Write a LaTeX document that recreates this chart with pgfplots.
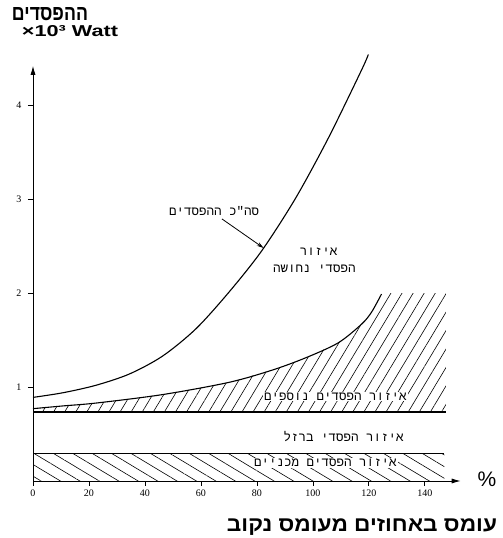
\documentclass[border=0pt]{standalone}
\usepackage{fontspec}
\usepackage{pgfplots}
\pgfplotsset{compat=1.18}
\usetikzlibrary{patterns.meta,arrows.meta}
\setmainfont{Liberation Serif}
\newfontfamily\hebsans[Script=Hebrew]{Liberation Sans}
\newfontfamily\hebmono[Script=Hebrew]{Liberation Mono}
\newfontfamily\lsans{Liberation Sans}
\TeXXeTstate=1
\begin{document}
\begin{tikzpicture}
\useasboundingbox (-33pt,-57pt) rectangle (470pt,481pt);
\begin{axis}[
 scale only axis, width=427.7pt, height=415.2pt,
 xmin=0, xmax=152.8, ymin=0, ymax=4.42,
 axis lines=left,
 axis line style={line width=0.9pt, -{Latex[length=9pt,width=5pt]}},
 xtick={0,20,...,140}, ytick={1,2,3,4},
 tick align=outside, major tick length=5pt,
 tick style={line width=0.8pt, black},
 ticklabel style={font=\fontsize{10}{12}\selectfont},
 yticklabel style={xshift=-3pt},
 /pgf/number format/assume math mode=true,
 clip=false,
]
% mechanical losses region
\addplot[draw=none, pattern={Lines[angle=-31,distance=10pt,line width=0.6pt]}]
  coordinates {(0,0) (0,0.29) (147,0.29) (147,0)} -- cycle;
\addplot[line width=1.1pt, black] coordinates {(0,0.29) (147,0.29)};
% additional losses region
\addplot[draw=none, pattern={Lines[angle=59,distance=9.5pt,line width=0.6pt]}]
  coordinates {(0,0.73) (0,0.77) (11,0.80) (22.6,0.83) (46.3,0.92) (70,1.05) (85.4,1.18) (97.3,1.31) (109,1.47) (117.4,1.67) (121,1.80) (124.5,1.99) (125,2.0) (147.5,2.0) (147.5,0.73)} -- cycle;
\addplot[line width=1.1pt, black, smooth, tension=0.5] coordinates {(0,0.77) (11,0.80) (22.6,0.83) (46.3,0.92) (70,1.05) (85.4,1.18) (97.3,1.31) (109,1.47) (117.4,1.67) (121,1.80) (124.5,1.99)};
% iron losses line
\addplot[line width=2pt, black] coordinates {(0,0.73) (147.5,0.73)};
% total losses
\addplot[line width=1.1pt, black, smooth, tension=0.5] coordinates {(0,0.89) (10.8,0.94) (22.6,1.02) (34.5,1.14) (46.3,1.33) (58.2,1.62) (70,2.01) (81.7,2.45) (93.8,3.01) (105.5,3.65) (117.3,4.37) (119.8,4.54)};
% labels
\node[font=\hebmono\fontsize{12.5}{14}\selectfont] at (axis cs:64.7,2.87) {\beginR סה"כ ההפסדים\endR};
\draw[-{Stealth[length=7pt,width=4pt]}, line width=0.8pt] (axis cs:67.5,2.79) -- (axis cs:82.4,2.48);
\node[font=\hebmono\fontsize{12.5}{14}\selectfont] at (axis cs:102,2.44) {\beginR איזור\endR};
\node[font=\hebmono\fontsize{12.5}{14}\selectfont] at (axis cs:100.5,2.26) {\beginR הפסדי נחושה\endR};
\node[font=\hebmono\fontsize{12.5}{14}\selectfont, fill=white, inner sep=1pt] at (axis cs:108,0.90) {\beginR איזור הפסדים נוספים\endR};
\node[font=\hebmono\fontsize{12.5}{14}\selectfont] at (axis cs:111,0.47) {\beginR איזור הפסדי ברזל\endR};
\node[font=\hebmono\fontsize{12.5}{14}\selectfont, fill=white, inner sep=1pt] at (axis cs:104.5,0.19) {\beginR איזור הפסדים מכניים\endR};
\end{axis}
\node at (17pt,467pt) {\resizebox{76pt}{13pt}{\hebsans\bfseries\beginR ההפסדים\endR}};
\node at (37pt,450pt) {\resizebox{96pt}{11pt}{\lsans\bfseries ×10³ Watt}};
\node at (329pt,-46pt) {\resizebox{270pt}{13pt}{\hebsans\bfseries\beginR עומס באחוזים מעומס נקוב\endR}};
\node[font=\lsans\fontsize{21}{24}\selectfont] at (454pt,1.5pt) {\%};
\end{tikzpicture}
\end{document}
